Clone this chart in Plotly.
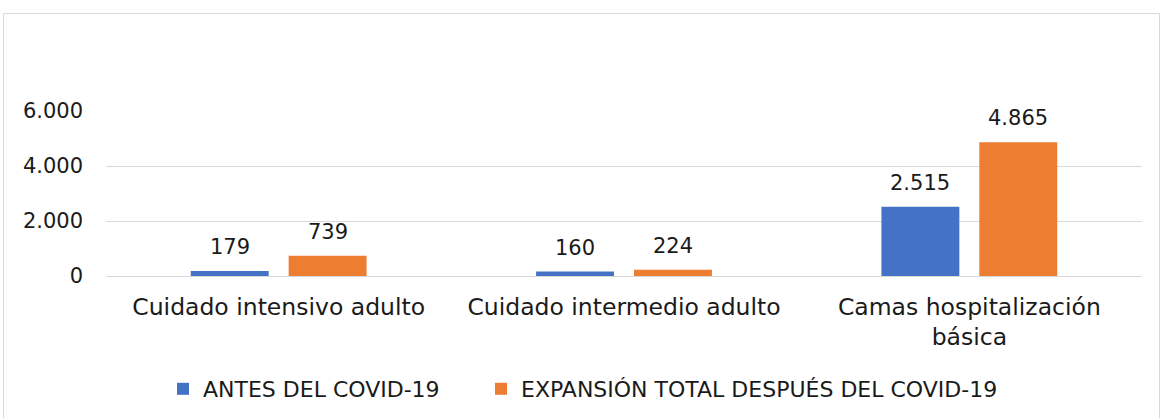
import plotly.graph_objects as go

categories = ["Cuidado intensivo adulto", "Cuidado intermedio adulto", "Camas hospitalización<br>básica"]
antes = [179, 160, 2515]
expansion = [739, 224, 4865]
series_names = ["ANTES DEL COVID-19", "EXPANSIÓN TOTAL DESPUÉS DEL COVID-19"]
tick_vals = [0, 2000, 4000, 6000]

FONT = "DejaVu Sans"
TXT = "#1a1a1a"
BLUE = "#4472C4"
ORANGE = "#ED7D31"

fig = go.Figure()
fig.add_trace(go.Bar(x=categories, y=antes, name=series_names[0], marker_color=BLUE,
                     marker_line_width=0, legend="legend"))
fig.add_trace(go.Bar(x=categories, y=expansion, name=series_names[1], marker_color=ORANGE,
                     marker_line_width=0, legend="legend2"))

def fmt(v):
    return f"{v:,d}".replace(",", ".")

for vals, dx in ((antes, -49), (expansion, 49)):
    for c, v in zip(categories, vals):
        fig.add_annotation(x=c, y=v, text=fmt(v), showarrow=False,
                           xanchor="center", yanchor="bottom", xshift=dx, yshift=10,
                           font=dict(size=21, color=TXT, family=FONT))

W, H = 1160, 418
L, R, T, B = 106, 18, 111, 142
pw = W - L - R
ph = H - T - B

leg_common = dict(orientation="h", xanchor="left", yanchor="middle",
                  xref="container", yref="container",
                  y=1 - 389 / H, itemwidth=30,
                  font=dict(size=22, color=TXT, family=FONT),
                  bgcolor="rgba(0,0,0,0)")

fig.update_layout(
    width=W, height=H,
    margin=dict(l=L, r=R, t=T, b=B, autoexpand=False),
    paper_bgcolor="white", plot_bgcolor="white",
    separators=",.",
    barmode="group", bargap=0.433, bargroupgap=0.204,
    font=dict(family=FONT, size=21, color=TXT),
    showlegend=True,
    legend=dict(x=163 / W, **leg_common),
    legend2=dict(x=481 / W, **leg_common),
    xaxis=dict(showgrid=False, showline=False, ticks="", ticklabelstandoff=14,
               tickfont=dict(size=23.5, color=TXT, family=FONT)),
    yaxis=dict(range=[0, 6000], tickvals=tick_vals, tickformat=",d",
               showgrid=True, gridcolor="#D9D9D9", gridwidth=1.3,
               zeroline=True, zerolinecolor="#D9D9D9", zerolinewidth=1.3,
               showline=False, ticks="", ticklabelstandoff=22,
               tickfont=dict(size=21, color=TXT, family=FONT)),
)

fig.add_shape(type="rect", xref="paper", yref="paper",
              x0=(3.5 - L) / pw, x1=(1159.5 - L) / pw,
              y0=(H - B - 425) / ph, y1=(H - B - 13.5) / ph,
              line=dict(color="#D9D9D9", width=1), fillcolor="rgba(0,0,0,0)", layer="below")

fig.write_html("out.html", config={"displayModeBar": False},
               post_script="document.body.style.margin='0';")
